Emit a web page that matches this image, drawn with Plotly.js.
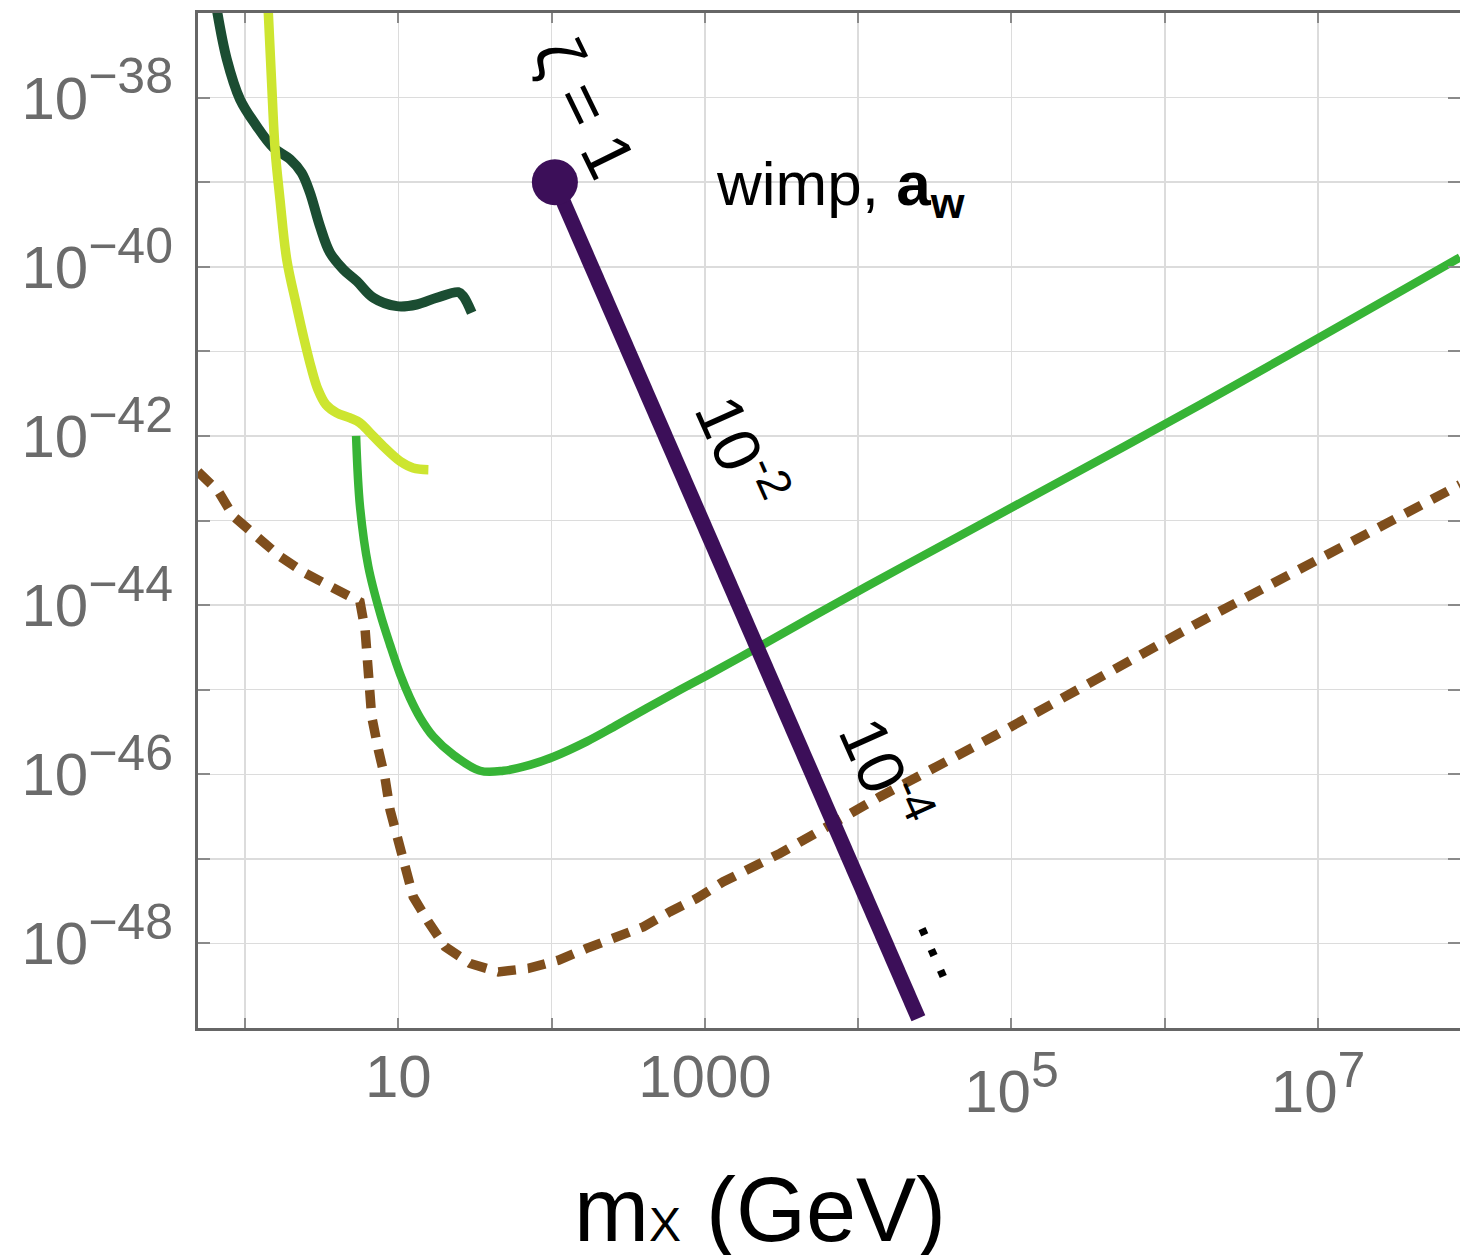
<!DOCTYPE html>
<html>
<head>
<meta charset="utf-8">
<script src="https://cdn.plot.ly/plotly-3.0.1.min.js"></script>
<style>
  html, body { margin: 0; padding: 0; background: #ffffff; }
  #chart { width: 1460px; height: 1255px; }
</style>
</head>
<body>
<div id="chart"></div>
<script>
// ---- data (mass in GeV, cross-section in cm^2) ----
const darkGreenMass = [0.646, 0.760, 0.927, 1.19, 1.53, 1.97, 2.34, 2.65, 3.08, 3.58, 4.38, 5.36, 6.87, 9.77, 13.2, 17.8, 24.6, 26.5, 30.1];
const darkGreenSigma = [1.26e-37, 2.84e-38, 9.55e-39, 4.61e-39, 2.56e-39, 1.86e-39, 1.29e-39, 7.52e-40, 3.02e-40, 1.47e-40, 9.29e-41, 6.76e-41, 4.30e-41, 3.42e-41, 3.58e-41, 4.30e-41, 5.00e-41, 4.49e-41, 2.86e-41];

const yellowMass = [1.41, 1.49, 1.57, 1.69, 1.87, 2.17, 2.43, 2.70, 2.99, 3.37, 3.96, 4.84, 5.62, 6.53, 7.98, 10.3, 12.5, 15.7];
const yellowSigma = [1.26e-37, 1.51e-38, 2.44e-39, 6.25e-40, 1.22e-40, 3.42e-41, 1.38e-41, 6.43e-42, 3.53e-42, 2.34e-42, 1.87e-42, 1.63e-42, 1.43e-42, 1.09e-42, 7.53e-43, 5.00e-43, 4.18e-43, 3.99e-43];

const greenMass = [5.30, 5.62, 6.37, 7.60, 8.83, 10.3, 11.9, 13.9, 16.9, 22.9, 34.1, 48.4, 72.3, 103, 169, 252, 417, 689, 1002, 1694, 11350, 46100, 1.70e6, 8.43e7];
const greenSigma = [1.0e-42, 1.47e-43, 2.86e-44, 8.04e-45, 3.39e-45, 1.50e-45, 8.00e-46, 4.63e-46, 2.79e-46, 1.69e-46, 1.10e-46, 1.10e-46, 1.29e-46, 1.61e-46, 2.43e-46, 3.60e-46, 6.04e-46, 9.95e-46, 1.43e-45, 2.41e-45, 1.66e-44, 6.61e-44, 2.34e-42, 1.29e-40];

const brownMass = [0.493, 0.670, 0.839, 1.16, 1.69, 2.46, 3.68, 5.62, 6.07, 6.37, 6.70, 7.41, 8.19, 8.83, 9.77, 11.1, 12.5, 15.7, 20.2, 29.4, 44.9, 70.5, 111, 169, 259, 396, 592, 885, 1318, 3090, 13870, 76000, 1.70e6, 8.43e7];
const brownSigma = [3.78e-43, 2.21e-43, 1.12e-43, 6.49e-44, 3.76e-44, 2.39e-44, 1.66e-44, 1.09e-44, 5.11e-45, 1.87e-45, 4.81e-46, 1.94e-46, 8.97e-47, 3.78e-47, 1.83e-47, 8.07e-48, 3.56e-48, 1.80e-48, 9.12e-49, 5.79e-49, 4.61e-49, 5.06e-49, 6.34e-49, 8.73e-49, 1.15e-48, 1.57e-48, 2.37e-48, 3.41e-48, 5.36e-48, 1.16e-47, 5.43e-47, 2.79e-46, 6.34e-45, 2.65e-43];

const wimpMass = [105, 24700];
const wimpSigma = [1.0e-39, 1.3e-49];

// ---- tick labels ----
const xGridVals = [1, 10, 100, 1000, 1e4, 1e5, 1e6, 1e7, 1e8];
const xGridText = ['', '10', '', '1000', '', '', '', '', ''];
const xPowVals = [1e5, 1e7];
const xPowText = ['10<sup><span style="font-size:50px">5</span></sup>', '10<sup><span style="font-size:50px">7</span></sup>'];
const yTickVals = [1e-49, 1e-48, 1e-47, 1e-46, 1e-45, 1e-44, 1e-43, 1e-42, 1e-41, 1e-40, 1e-39, 1e-38, 1e-37];
const yTickExp = ['', '−48', '', '−46', '', '−44', '', '−42', '', '−40', '', '−38', ''];
const yTickText = yTickExp.map(e => e ? '10<sup><span style="font-size:50px">' + e + '</span></sup>' : '');

const FONT = 'Liberation Sans, Arial, Helvetica, sans-serif';
const TICKFONT = { family: FONT, size: 60, color: '#6b6b6b' };

const traces = [
  { x: brownMass, y: brownSigma, mode: 'lines', hoverinfo: 'skip',
    line: { color: '#7f4e1c', width: 9.5, dash: '18px,12px' } },
  { x: darkGreenMass, y: darkGreenSigma, mode: 'lines', hoverinfo: 'skip',
    line: { color: '#1b4d32', width: 10, shape: 'spline', smoothing: 1 } },
  { x: yellowMass, y: yellowSigma, mode: 'lines', hoverinfo: 'skip',
    line: { color: '#cde530', width: 9.5, shape: 'spline', smoothing: 1 } },
  { x: greenMass, y: greenSigma, mode: 'lines', hoverinfo: 'skip',
    line: { color: '#37b436', width: 8.5, shape: 'spline', smoothing: 1 } },
  { x: wimpMass, y: wimpSigma, xaxis: 'x2', yaxis: 'y', mode: 'lines+markers', hoverinfo: 'skip',
    line: { color: '#3c0f59', width: 15 },
    marker: { color: '#3c0f59', opacity: 1, size: [46, 0], line: { width: 0 } } }
];

function px(p) { return (p - 198) / 1262; }
function py(p) { return (1028 - p) / 1015; }

const annFont = { family: FONT, size: 66, color: '#000000' };

const layout = {
  width: 1460, height: 1255,
  margin: { l: 198, r: 0, t: 13, b: 227 },
  paper_bgcolor: '#ffffff', plot_bgcolor: '#ffffff',
  showlegend: false,
  font: { family: FONT },
  xaxis: {
    type: 'log', range: [-0.307, 7.926],
    tickmode: 'array', tickvals: xGridVals, ticktext: xGridText,
    showgrid: true, gridcolor: '#dcdcdc', gridwidth: 1.5,
    showline: true, linecolor: '#666666', linewidth: 3, mirror: 'ticks',
    ticks: 'inside', ticklen: 10, tickwidth: 2, tickcolor: '#8a8a8a',
    tickfont: TICKFONT,
    ticklabelstandoff: -6,
    zeroline: false, fixedrange: true
  },
  xaxis2: {
    type: 'log', range: [-0.307, 7.926], overlaying: 'x', anchor: 'y', side: 'bottom',
    tickmode: 'array', tickvals: xPowVals, ticktext: xPowText,
    showgrid: false, showline: false, ticks: '',
    tickfont: TICKFONT,
    ticklabelstandoff: 23,
    zeroline: false, fixedrange: true
  },
  yaxis: {
    type: 'log', range: [-49, -37],
    tickmode: 'array', tickvals: yTickVals, ticktext: yTickText,
    showgrid: true, gridcolor: '#dcdcdc', gridwidth: 1.5,
    showline: true, linecolor: '#666666', linewidth: 3, mirror: 'ticks',
    ticks: 'inside', ticklen: 12, tickwidth: 2, tickcolor: '#8a8a8a',
    tickfont: TICKFONT,
    ticklabelstandoff: 10,
    zeroline: false, fixedrange: true
  },
  annotations: [
    { xref: 'paper', yref: 'paper', x: px(585), y: py(107), showarrow: false,
      xanchor: 'center', yanchor: 'middle', textangle: 64,
      text: 'ζ = 1', font: { family: FONT, size: 68, color: '#000000' } },
    { xref: 'paper', yref: 'paper', x: px(841), y: py(188), showarrow: false,
      xanchor: 'center', yanchor: 'middle',
      text: 'wimp, <b>a</b><sub><b>w</b></sub>', font: { family: FONT, size: 62, color: '#000000' } },
    { xref: 'paper', yref: 'paper', x: px(742), y: py(450), showarrow: false,
      xanchor: 'center', yanchor: 'middle', textangle: 66,
      text: '10<sup>-2</sup>', font: annFont },
    { xref: 'paper', yref: 'paper', x: px(886), y: py(772), showarrow: false,
      xanchor: 'center', yanchor: 'middle', textangle: 66,
      text: '10<sup>-4</sup>', font: annFont },
    { xref: 'paper', yref: 'paper', x: px(952), y: py(944), showarrow: false,
      xanchor: 'center', yanchor: 'middle', textangle: 66,
      text: '…', font: { family: FONT, size: 72, color: '#000000' } },
    { xref: 'paper', yref: 'paper', x: px(760), y: py(1210), showarrow: false,
      xanchor: 'center', yanchor: 'middle',
      text: 'm<span style="font-size:48px">X</span> (GeV)', font: { family: FONT, size: 90, color: '#000000' } }
  ]
};

Plotly.newPlot('chart', traces, layout, { staticPlot: true, displayModeBar: false });
</script>
</body>
</html>
